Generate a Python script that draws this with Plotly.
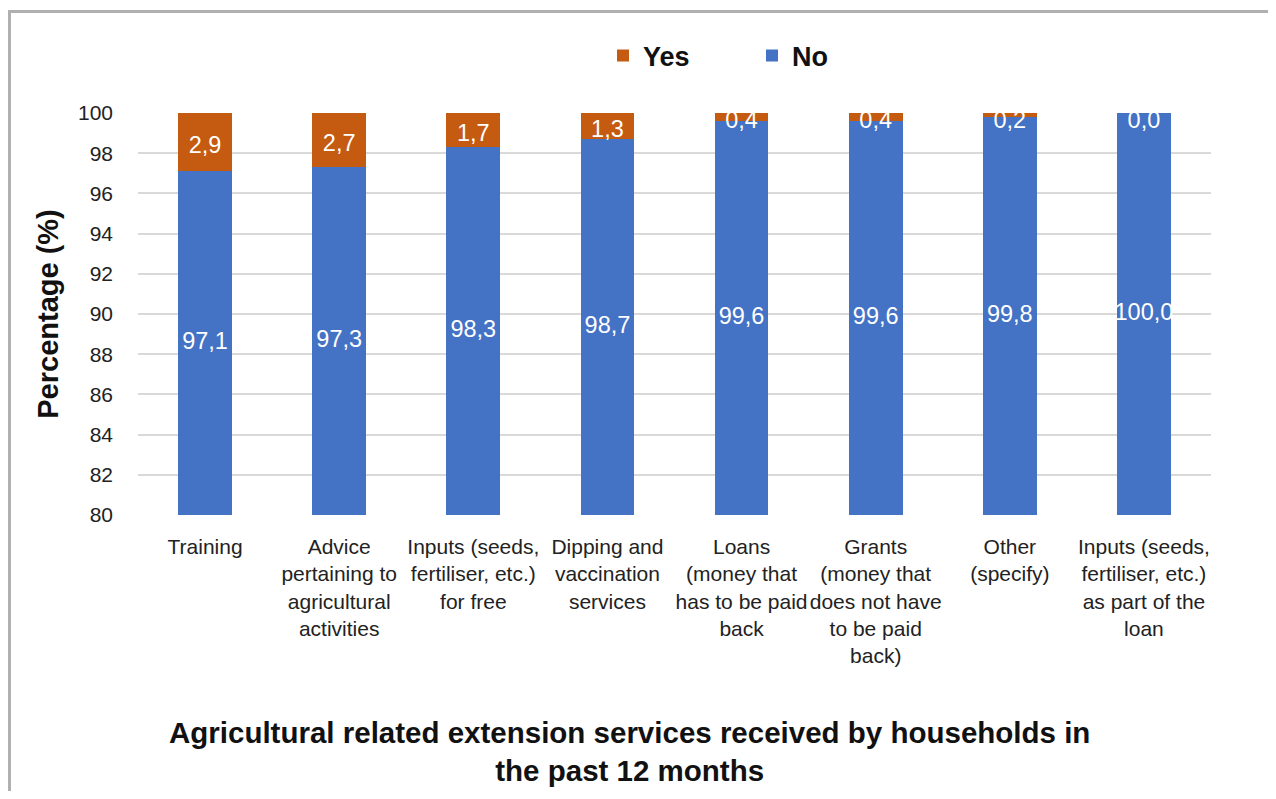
import plotly.graph_objects as go

categories = [
    "Training",
    "Advice pertaining to agricultural activities",
    "Inputs (seeds, fertiliser, etc.) for free",
    "Dipping and vaccination services",
    "Loans (money that has to be paid back",
    "Grants (money that does not have to be paid back)",
    "Other (specify)",
    "Inputs (seeds, fertiliser, etc.) as part of the loan",
]
tick_labels = [
    "Training",
    "Advice<br>pertaining to<br>agricultural<br>activities",
    "Inputs (seeds,<br>fertiliser, etc.)<br>for free",
    "Dipping and<br>vaccination<br>services",
    "Loans<br>(money that<br>has to be paid<br>back",
    "Grants<br>(money that<br>does not have<br>to be paid<br>back)",
    "Other<br>(specify)",
    "Inputs (seeds,<br>fertiliser, etc.)<br>as part of the<br>loan",
]
no_values = [97.1, 97.3, 98.3, 98.7, 99.6, 99.6, 99.8, 100.0]
yes_values = [2.9, 2.7, 1.7, 1.3, 0.4, 0.4, 0.2, 0.0]

y_min, y_max = 80, 100
BLUE = "#4472C4"
ORANGE = "#C55A11"
FONT = "Liberation Sans, Arial, sans-serif"

fig = go.Figure()
fig.add_trace(go.Bar(name="No", x=categories, y=no_values, marker_color=BLUE,
                     marker_line_width=0))
fig.add_trace(go.Bar(name="Yes", x=categories, y=yes_values, marker_color=ORANGE,
                     marker_line_width=0))

# data labels (centred in the visible part of each segment)
no_label_y = [(y_min + n) / 2 for n in no_values]
yes_label_y = [min(n + y / 2 - 0.25, y_max - 0.45) for n, y in zip(no_values, yes_values)]
fig.add_trace(go.Scatter(x=categories, y=no_label_y, mode="text",
                         text=[f"{v:.1f}".replace(".", ",") for v in no_values],
                         textfont=dict(family=FONT, size=23.5, color="white"),
                         showlegend=False, hoverinfo="skip", cliponaxis=False))
fig.add_trace(go.Scatter(x=categories, y=yes_label_y, mode="text",
                         text=[f"{v:.1f}".replace(".", ",") for v in yes_values],
                         textfont=dict(family=FONT, size=23.5, color="white"),
                         showlegend=False, hoverinfo="skip", cliponaxis=False))

OFF = 8  # page body margin
W, H = 1276 - 2 * OFF, 799 - 2 * OFF
# plot area in screen pixels: x 138..1211, y 113..515
ml, mr = 138 - OFF, W - (1211 - OFF)
mt, mb = 113 - OFF, H - (515 - OFF)
pw, ph = W - ml - mr, H - mt - mb

def px(sx):
    return (sx - OFF - ml) / pw

def py(sy):
    return (H - mb - (sy - OFF)) / ph

border = dict(color="#b0b0b0", width=3)

fig.update_layout(
    width=W, height=H,
    margin=dict(l=ml, r=mr, t=mt, b=mb, autoexpand=False),
    barmode="stack", bargap=0.6,
    plot_bgcolor="white", paper_bgcolor="white",
    font=dict(family=FONT, color="#222222"),
    showlegend=True,
    legend=dict(orientation="h", traceorder="reversed",
                x=px(603), xanchor="left", y=py(56), yanchor="middle",
                font=dict(family=FONT, size=27, weight="bold", color="#111111"),
                entrywidth=104, itemwidth=30, bgcolor="rgba(0,0,0,0)"),
    xaxis=dict(tickmode="array", tickvals=categories, ticktext=tick_labels,
               tickfont=dict(family=FONT, size=21, color="#222222"),
               showgrid=False, showline=False, ticks="", ticklabelstandoff=17),
    yaxis=dict(range=[y_min, y_max], dtick=2, showgrid=True, gridcolor="#d9d9d9",
               gridwidth=1.5, zeroline=False, showline=False, ticks="",
               tickfont=dict(family=FONT, size=21, color="#222222"),
               ticklabelstandoff=24,
               title=dict(text="Percentage (%)", standoff=10,
                          font=dict(family=FONT, size=29, weight="bold", color="#111111"))),
    annotations=[dict(
        text="Agricultural related extension services received by households in<br>the past 12 months",
        xref="paper", yref="paper", x=px(629), y=py(751), xanchor="center", yanchor="middle",
        showarrow=False, font=dict(family=FONT, size=29.5, weight="bold", color="#111111"))],
    shapes=[
        dict(type="line", xref="paper", yref="paper",
             x0=px(OFF + 1.5), x1=px(1300), y0=py(11.5), y1=py(11.5),
             line=border, layer="below"),
        dict(type="line", xref="paper", yref="paper",
             x0=px(OFF + 1.5), x1=px(OFF + 1.5), y0=py(10), y1=py(900),
             line=border, layer="below"),
    ],
)

fig.write_html("out.html")
